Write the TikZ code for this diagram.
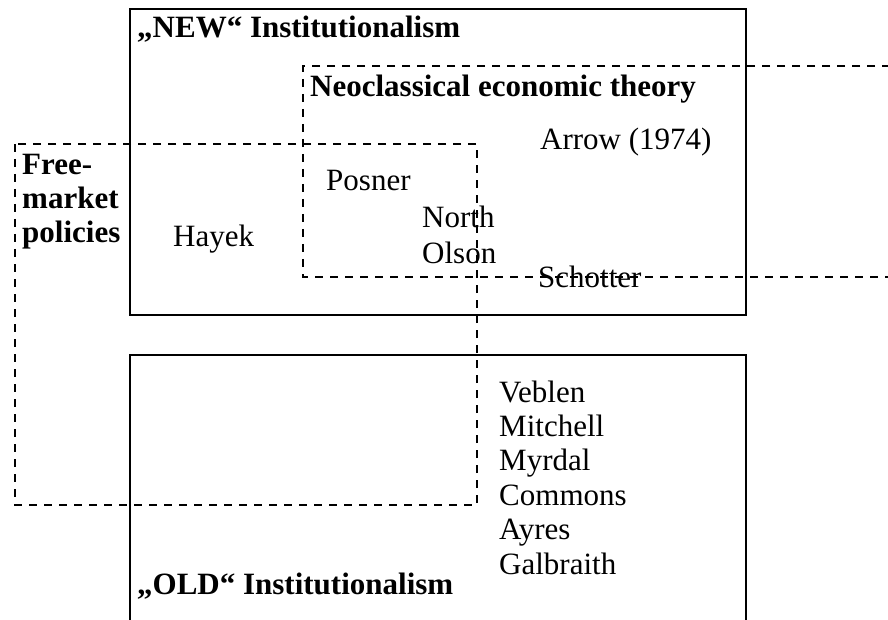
\documentclass[tikz,border=0pt]{standalone}
\usepackage{fontspec}
\setmainfont{Liberation Serif}
\tikzset{
  school/.style={draw, line width=2.4pt},
  camp/.style={draw, dash pattern=on 8pt off 7pt, line width=2.2pt},
  heading/.style={anchor=base west, inner sep=0pt, align=left,
                  font=\fontsize{31}{34}\selectfont\bfseries},
  scholar/.style={anchor=base west, inner sep=0pt, align=left,
                  font=\fontsize{31}{34.4}\selectfont}
}
\begin{document}
\begin{tikzpicture}[x=1pt, y=-1pt]
      \useasboundingbox (0, 0) rectangle (888, 620);
      % the two schools
      \draw[school] (130, 9) rectangle (746, 315);
      \draw[school] (130, 625) |- (746, 355) -- (746, 625);
      \node[heading] (newlabel) at (137, 38) {„NEW“ Institutionalism};
      \node[heading] (oldlabel) at (137, 594) {„OLD“ Institutionalism};
      \node[heading] (neolabel) at (310, 97) {Neoclassical economic theory};
      % multi-line texts sit on their last baseline
      \node[heading] (freelabel) at (22, 243) {Free-\\market\\policies};
      % names
      \node[scholar] (arrow) at (540, 150) {Arrow (1974)};
      \node[scholar] (posner) at (326, 191) {Posner};
      \node[scholar] (hayek) at (173, 247) {Hayek};
      \node[scholar] (north) at (422, 228) {North};
      \node[scholar] (olson) at (422, 263) {Olson};
      \node[scholar] (schotter) at (538, 287) {Schotter};
      \node[scholar] (veblen) at (499, 574)
            {Veblen\\Mitchell\\Myrdal\\Commons\\Ayres\\Galbraith};
      % overlapping camps
      \draw[camp] (890, 66) -| (303, 277) -- (890, 277);
      \draw[camp] (15, 144) rectangle (477, 505);
\end{tikzpicture}
\end{document}
